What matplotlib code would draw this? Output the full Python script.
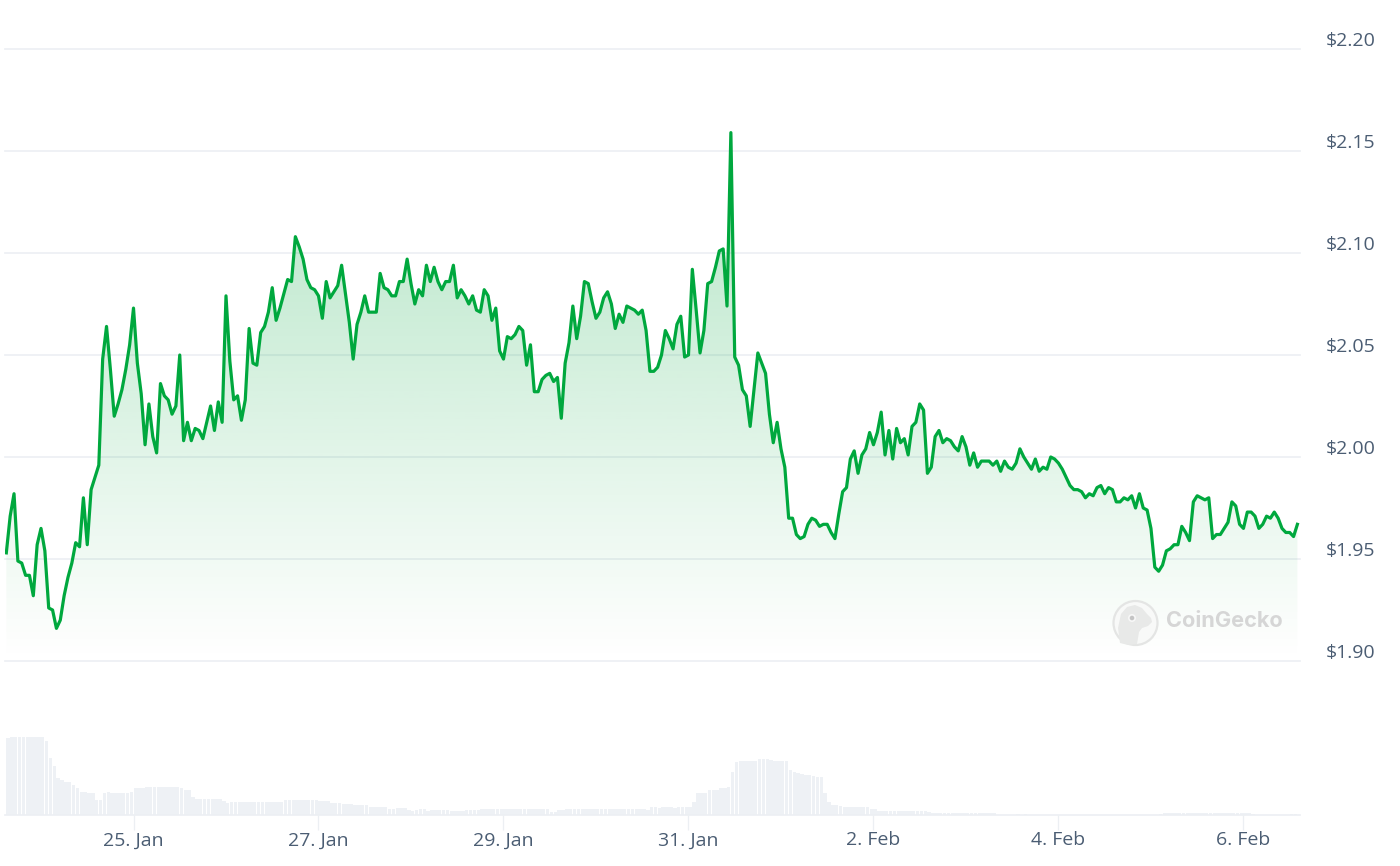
import matplotlib
matplotlib.use("Agg")
import matplotlib.pyplot as plt
from matplotlib.colors import to_rgb
from matplotlib.patches import Circle, Polygon
import numpy as np

W, H = 1400, 866
GREEN = "#00A83E"; GRID = "#ECEFF3"; BAR = "#EEF1F5"; INK = "#4B5D73"; MARK = "#D6D6D6"
plt.rcParams["font.family"] = ["Open Sans", "DejaVu Sans"]

# hourly price
prices = [
    1.953, 1.971, 1.982, 1.949, 1.948, 1.942, 1.942, 1.932, 1.957, 1.965, 1.954, 1.926, 1.925, 1.916, 1.920,
    1.932, 1.941, 1.948, 1.958, 1.956, 1.980, 1.957, 1.984, 1.990, 1.996, 2.048, 2.064, 2.043, 2.020, 2.026,
    2.033, 2.043, 2.055, 2.073, 2.046, 2.031, 2.006, 2.026, 2.010, 2.002, 2.036, 2.030, 2.028, 2.021, 2.025,
    2.050, 2.008, 2.017, 2.008, 2.014, 2.013, 2.009, 2.017, 2.025, 2.013, 2.027, 2.017, 2.079, 2.047, 2.028,
    2.030, 2.018, 2.028, 2.063, 2.046, 2.045, 2.061, 2.064, 2.071, 2.083, 2.067, 2.073, 2.080, 2.087, 2.086,
    2.108, 2.103, 2.097, 2.087, 2.083, 2.082, 2.079, 2.068, 2.086, 2.078, 2.081, 2.084, 2.094,
    2.080, 2.066, 2.048, 2.065, 2.071, 2.079, 2.071, 2.071, 2.071, 2.090, 2.083, 2.082, 2.079, 2.079, 2.086,
    2.086, 2.097, 2.085, 2.075, 2.082, 2.079, 2.094, 2.086, 2.093, 2.086, 2.082, 2.086, 2.086, 2.094, 2.078,
    2.082, 2.079, 2.075, 2.079, 2.072, 2.071, 2.082, 2.079, 2.067, 2.073, 2.052, 2.048, 2.059, 2.058, 2.060,
    2.064, 2.062, 2.045, 2.055, 2.032, 2.032, 2.038, 2.040, 2.041, 2.037, 2.039, 2.019, 2.046, 2.056, 2.074,
    2.058, 2.069, 2.086, 2.085, 2.076, 2.068, 2.071, 2.078, 2.081, 2.075, 2.063, 2.070, 2.066, 2.074, 2.073,
    2.072, 2.070, 2.072, 2.062, 2.042, 2.042, 2.044, 2.050, 2.062, 2.058, 2.053, 2.065, 2.069, 2.049, 2.050,
    2.092, 2.072, 2.051, 2.062, 2.085, 2.086, 2.093, 2.101, 2.102, 2.074, 2.159, 2.049, 2.045, 2.033, 2.030,
    2.015, 2.033, 2.051, 2.046, 2.041, 2.021, 2.007, 2.017, 2.004, 1.995, 1.970, 1.970, 1.962, 1.960, 1.961,
    1.967, 1.970, 1.969, 1.966, 1.967, 1.967, 1.963, 1.960, 1.972, 1.983, 1.985, 1.999, 2.003, 1.992, 2.001,
    2.004, 2.012, 2.006, 2.012, 2.022, 2.001, 2.013, 1.999, 2.014, 2.007, 2.009, 2.001, 2.015, 2.017, 2.026,
    2.023, 1.992, 1.995, 2.010, 2.013, 2.007, 2.009, 2.008, 2.005, 2.003, 2.010, 2.005, 1.996, 2.002, 1.995,
    1.998, 1.998, 1.998, 1.996, 1.998, 1.993, 1.998, 1.995, 1.994, 1.997, 2.004, 2.000, 1.997, 1.994, 1.999,
    1.993, 1.995, 1.994, 2.000, 1.999, 1.997, 1.994, 1.990, 1.986, 1.984, 1.984, 1.983, 1.980, 1.982, 1.981,
    1.985, 1.986, 1.982, 1.985, 1.984, 1.978, 1.978, 1.980, 1.979, 1.981, 1.975, 1.982, 1.975, 1.974, 1.965,
    1.946, 1.944, 1.947, 1.954, 1.955, 1.957, 1.957, 1.966, 1.963, 1.959, 1.978, 1.981, 1.980, 1.979, 1.980,
    1.960, 1.962, 1.962, 1.965, 1.968, 1.978, 1.976, 1.967, 1.965, 1.973, 1.973, 1.971, 1.965, 1.967, 1.971,
    1.970, 1.973, 1.970, 1.965, 1.963, 1.963, 1.961, 1.967,
]

# hourly volume, relative units (the picture has no volume scale)
volumes = [
    77, 78, 78, 78, 78, 78, 78, 78, 78, 78, 74, 57, 49, 37, 35, 33, 33, 30, 27, 23, 23, 22, 22, 15, 15, 22, 23, 22,
    22, 22, 22, 22, 23, 27, 27, 27, 28, 28, 28, 28, 28, 28, 28, 28, 28, 27, 25, 25, 18, 16, 16, 16, 16, 16, 16, 16,
    14, 12, 13, 13, 13, 13, 13, 13, 13, 13, 13, 13, 13, 13, 13, 13, 15, 15, 15, 15, 15, 15, 15, 15, 15, 14, 14, 14,
    12, 12, 12, 11, 11, 11, 10, 10, 10, 10, 8, 8, 8, 8, 8, 6, 6, 7, 7, 7, 5, 4, 5, 6, 6, 4, 5, 5, 5, 5, 5,
    4, 4, 4, 4, 5, 5, 5, 5, 6, 6, 6, 6, 6, 6, 6, 6, 6, 6, 6, 6, 6, 6, 6, 6, 6, 6, 3, 3, 5, 5, 6, 6, 6, 6, 6, 6, 6,
    6, 6, 6, 6, 6, 6, 6, 6, 6, 6, 6, 6, 6, 6,
    5, 8, 8, 7, 8, 8, 8, 7, 8, 8, 8, 8, 13, 22, 22, 22, 25, 25, 25, 27, 27, 28, 43, 53, 54, 54, 54, 54, 54, 56, 56,
    56, 55, 54, 54, 54, 54, 45, 43, 42, 41, 40, 40, 39, 38, 38, 22, 13, 10, 10, 9, 8, 8, 8, 8, 8, 8, 8, 6, 6, 4, 4,
    4, 4, 4, 4, 4, 4, 4, 4, 4, 4, 4, 3, 2, 2, 2,
    2, 2, 2, 2, 2, 2, 2, 2, 2, 2, 2, 2, 2, 2, 0.5, 0.5, 0.5, 0.5, 0.5, 1.5, 0.5, 1.5,
    0.3, 0.3, 0.3, 0.3, 0.3, 0.3, 0.3, 0.3, 0.3, 0.3, 0.3, 0.3, 0.3, 0.3, 0.3, 0.3, 0.3,
    0.3, 0.3, 0.3, 0.3, 0.3, 0.3, 0.3, 0.3, 0.3, 0.3, 0.3, 0.3, 0.3, 0.3, 0.3, 0.3, 0.3,
    1.5, 2, 2, 2, 2, 2, 2, 2, 2, 2, 2, 2, 2, 2, 2, 2, 2, 2, 2, 2, 2, 2, 2, 2, 1.5,
    0.3, 0.3, 0.3, 0.3, 0.3, 0.3, 0.3, 0.3, 0.3, 1.5, 1.5, 0.3,
]

price_ticks = [1.90, 1.95, 2.00, 2.05, 2.10, 2.15, 2.20]
date_ticks = [0, 48, 96, 144, 192, 240, 288]          # hours after 25 Jan 00:00
date_labels = ["25. Jan", "27. Jan", "29. Jan", "31. Jan", "2. Feb", "4. Feb", "6. Feb"]
first_hour = -33


def px_axes(fig, left, top, right, bottom):
    return fig.add_axes([left / W, 1 - bottom / H, (right - left) / W, (bottom - top) / H])


fig = plt.figure(figsize=(W / 100, H / 100), dpi=100, facecolor="white")
XLIM = ((5 - 133.5) / 3.854, (1300 - 133.5) / 3.854)

# price panel
ax = px_axes(fig, 5, 49, 1300, 661)
ax.set_xlim(*XLIM); ax.set_ylim(1.90, 2.20)
hours = first_hour + np.arange(len(prices))
for t in price_ticks:
    ax.axhline(t, color=GRID, lw=1.2, zorder=1, clip_on=False)
    ax.annotate(f"${t:.2f}", xy=(1, t), xycoords=("axes fraction", "data"), xytext=(18.5, 6),
                textcoords="offset points", ha="left", va="center", fontsize=14, color=INK,
                annotation_clip=False)

# green area, fading out towards the bottom
rgb = to_rgb(GREEN)
grad = np.zeros((256, 1, 4)); grad[..., :3] = rgb
grad[..., 3] = np.linspace(0.30, 0.0, 256)[:, None]
img = ax.imshow(grad, extent=(hours[0], hours[-1], 1.90, max(prices)), aspect="auto", zorder=2,
                interpolation="bilinear", origin="upper")
ax.set_xlim(*XLIM); ax.set_ylim(1.90, 2.20)
verts = np.column_stack([np.r_[hours[0], hours, hours[-1]], np.r_[1.90, prices, 1.90]])
clip = Polygon(verts, closed=True, transform=ax.transData, fc="none", ec="none")
ax.add_patch(clip); img.set_clip_path(clip)
ax.plot(hours, prices, color=GREEN, lw=2.3, solid_joinstyle="round", zorder=3)
ax.axis("off")

# volume panel
vol = px_axes(fig, 5, 737, 1300, 815)
vol.set_xlim(*XLIM); vol.set_ylim(0, 78)
vol.bar(first_hour + np.arange(len(volumes)), volumes, width=0.9, align="edge", color=BAR, linewidth=0)
for s in ["top", "left", "right"]:
    vol.spines[s].set_visible(False)
vol.spines["bottom"].set_color(GRID); vol.spines["bottom"].set_linewidth(1.2)
vol.set_yticks([])
vol.set_xticks(date_ticks); vol.set_xticklabels(date_labels, fontsize=14, color=INK)
vol.tick_params(axis="x", length=10.8, width=0.9, color=GRID, pad=1)
vol.patch.set_alpha(0)

# CoinGecko watermark, drawn in pixel coordinates
over = fig.add_axes([0, 0, 1, 1]); over.set_xlim(0, W); over.set_ylim(H, 0); over.axis("off")
over.add_patch(Circle((1135.5, 623), 22, fc="#F8F9F8", ec="#E4E5E4", lw=1.6))
gecko = [(1120, 643), (1118, 628), (1121, 614), (1127, 607), (1135, 605), (1142, 608), (1147, 614),
         (1151, 618), (1152, 622), (1148, 626), (1142, 628), (1139, 632), (1137, 644), (1128, 645)]
over.add_patch(Polygon(gecko, closed=True, fc="#E8E9E8", ec="none"))
over.add_patch(Circle((1132, 618), 4, fc="#F7F7F7", ec="none"))
over.add_patch(Circle((1132, 618), 2.3, fc="#C4C4C4", ec="none"))
over.text(1166, 621, "CoinGecko", fontsize=15.6, fontweight="bold", color=MARK, ha="left", va="center",
          family=["Inter", "Open Sans", "DejaVu Sans"])

fig.savefig("out.png", dpi=100)
